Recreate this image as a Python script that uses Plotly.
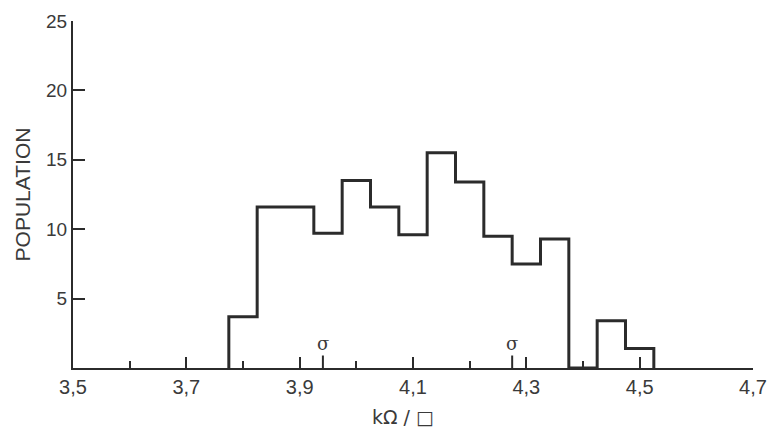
import plotly.graph_objects as go

# ---- data ----
bin_left_edges = [3.775, 3.825, 3.875, 3.925, 3.975, 4.025, 4.075, 4.125,
                  4.175, 4.225, 4.275, 4.325, 4.375, 4.425, 4.475]
bin_width = 0.05
population = [3.7, 11.6, 11.6, 9.7, 13.5, 11.6, 9.6, 15.5,
              13.4, 9.5, 7.5, 9.3, 0, 3.4, 1.4]

sigma_positions = [3.941, 4.275]
sigma_label = "σ"

x_major_vals = [3.5, 3.7, 3.9, 4.1, 4.3, 4.5, 4.7]
x_major_text = ["3,5", "3,7", "3,9", "4,1", "4,3", "4,5", "4,7"]
x_minor_vals = [3.6, 3.8, 4.0, 4.2, 4.4]
y_tick_vals = [5, 10, 15, 20, 25]
y_tick_text = ["5", "10", "15", "20", "25"]

x_title = "kΩ / □"
y_title = "POPULATION"

INK = "#2b2b2b"
TXT = "#3a3a3a"
FONT = "Liberation Sans, Arial, sans-serif"

# build the step outline from bins
xs, ys = [bin_left_edges[0]], [0]
for left, count in zip(bin_left_edges, population):
    xs += [left, left + bin_width]
    ys += [count, count]
xs.append(bin_left_edges[-1] + bin_width)
ys.append(0)

fig = go.Figure()
fig.add_trace(go.Scatter(x=xs, y=ys, mode="lines",
                         line=dict(color=INK, width=3),
                         hoverinfo="skip", showlegend=False))

# sigma markers
for sx in sigma_positions:
    fig.add_shape(type="line", xref="x", yref="y", x0=sx, x1=sx, y0=0, y1=0.9,
                  line=dict(color=INK, width=2))
    fig.add_annotation(x=sx, y=0.85, xref="x", yref="y", text=sigma_label,
                       showarrow=False, yanchor="bottom",
                       font=dict(family="DejaVu Serif, serif", size=18, color=TXT))

fig.add_annotation(x=0.485, y=-0.14, xref="paper", yref="paper", text=x_title,
                   showarrow=False, yanchor="middle", xanchor="center",
                   font=dict(family="DejaVu Sans, sans-serif", size=19, color=TXT))

fig.update_layout(
    width=767, height=420,
    margin=dict(l=65, r=22, t=13, b=59.5, autoexpand=False),
    paper_bgcolor="white", plot_bgcolor="white",
    xaxis=dict(range=[3.5, 4.7], showgrid=False, zeroline=False, automargin=False,
               showline=True, linecolor=INK, linewidth=2,
               tickmode="array", tickvals=x_major_vals, ticktext=x_major_text,
               ticks="inside", ticklen=11, tickwidth=2, tickcolor=INK,
               tickfont=dict(family=FONT, size=20, color=TXT),
               minor=dict(tickmode="array", tickvals=x_minor_vals,
                          ticks="inside", ticklen=7, tickwidth=2, tickcolor=INK,
                          showgrid=False)),
    yaxis=dict(range=[0, 25], showgrid=False, zeroline=False, automargin=False,
               showline=True, linecolor=INK, linewidth=2,
               tickmode="array", tickvals=y_tick_vals, ticktext=y_tick_text,
               ticks="inside", ticklen=12, tickwidth=2, tickcolor=INK,
               tickfont=dict(family=FONT, size=19, color=TXT),
               title=dict(text=y_title, standoff=10,
                          font=dict(family=FONT, size=21, color=TXT))),
)

fig.write_html("out.html")
